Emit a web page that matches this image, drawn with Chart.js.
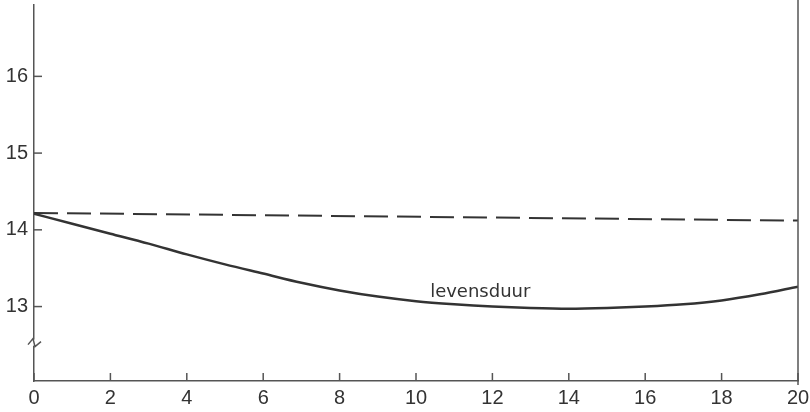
<!DOCTYPE html>
<html lang="nl">
<head>
<meta charset="UTF-8">
<title>levensduur</title>
<script src="https://cdn.jsdelivr.net/npm/chart.js"></script>
<style>
  html, body { margin: 0; padding: 0; background: #fff; }
  #wrap { width: 810px; height: 412px; }
</style>
</head>
<body>
<div id="wrap"><canvas id="chart"></canvas></div>
<script>
// data
const xValues = [0, 1, 2, 3, 4, 5, 6, 7, 8, 9, 10, 11, 12, 13, 14, 15, 16, 17, 18, 19, 20];
const levensduur = [14.21, 14.08, 13.95, 13.82, 13.68, 13.55, 13.43, 13.31, 13.21, 13.13, 13.07,
                    13.03, 13.00, 12.98, 12.97, 12.98, 13.00, 13.03, 13.08, 13.16, 13.26];
const dashX = [0, 20];
const dashY = [14.22, 14.12];
const xTicks = [0, 2, 4, 6, 8, 10, 12, 14, 16, 18, 20];
const yTicks = [13, 14, 15, 16];
const yBreak = 12.53;
const curveLabel = 'levensduur';

const ink = '#333';
const axisInk = '#555';

function seg(ctx, x1, y1, x2, y2) {
    ctx.beginPath();
    ctx.moveTo(x1, y1);
    ctx.lineTo(x2, y2);
    ctx.stroke();
}

const decor = {
    id: 'decor',
    afterDatasetsDraw(chart) {
        const { ctx, chartArea, scales: { x, y } } = chart;
        ctx.save();
        ctx.strokeStyle = axisInk;
        ctx.lineWidth = 1.5;
        // inward tick marks
        xTicks.forEach(v => {
            const px = x.getPixelForValue(v);
            seg(ctx, px, chartArea.bottom, px, chartArea.bottom - 8);
        });
        yTicks.forEach(v => {
            const py = y.getPixelForValue(v);
            seg(ctx, chartArea.left, py, chartArea.left + 8, py);
        });
        // right frame line
        const rx = x.getPixelForValue(20);
        seg(ctx, rx, 0, rx, chartArea.bottom + 4);

        // axis break
        const by = y.getPixelForValue(yBreak);
        const lx = chartArea.left;
        ctx.fillStyle = '#fff';
        ctx.fillRect(lx - 2, by - 3, 4, 6);
        ctx.beginPath();
        ctx.moveTo(lx - 6, by + 2);
        ctx.lineTo(lx - 1, by - 4);
        ctx.lineTo(lx + 1, by + 4);
        ctx.lineTo(lx + 7, by - 1);
        ctx.stroke();

        // curve label
        ctx.fillStyle = ink;
        ctx.font = '18px "DejaVu Sans"';
        ctx.textBaseline = 'alphabetic';
        ctx.fillText(curveLabel, x.getPixelForValue(10.37), y.getPixelForValue(13.12));
        ctx.restore();
    }
};

new Chart(document.getElementById('chart'), {
    type: 'line',
    data: {
        datasets: [{
            data: xValues.map((v, i) => ({ x: v, y: levensduur[i] })),
            borderColor: ink,
            borderWidth: 2.5,
            pointRadius: 0,
            cubicInterpolationMode: 'monotone',
            fill: false
        }, {
            data: dashX.map((v, i) => ({ x: v, y: dashY[i] })),
            borderColor: ink,
            borderWidth: 2,
            borderDash: [24, 9],
            pointRadius: 0,
            fill: false
        }]
    },
    options: {
        responsive: true,
        maintainAspectRatio: false,
        animation: false,
        layout: { padding: { top: 5, right: 12, left: 0, bottom: 0 } },
        plugins: { legend: { display: false }, tooltip: { enabled: false } },
        scales: {
            x: {
                type: 'linear',
                min: 0,
                max: 20,
                afterBuildTicks: s => { s.ticks = xTicks.map(v => ({ value: v })); },
                afterFit: s => { s.height = 31; s.paddingLeft = 0; s.paddingRight = 0; },
                grid: { drawOnChartArea: false, drawTicks: false },
                border: { display: true, color: axisInk, width: 1.5 },
                ticks: {
                    padding: 5,
                    maxRotation: 0,
                    color: ink,
                    font: { family: '"Liberation Sans"', size: 20 }
                }
            },
            y: {
                min: 12.03,
                max: 16.93,
                afterBuildTicks: s => { s.ticks = yTicks.map(v => ({ value: v })); },
                afterFit: s => { s.width = 34; s.paddingTop = 0; s.paddingBottom = 0; },
                grid: { drawOnChartArea: false, drawTicks: false },
                border: { display: true, color: axisInk, width: 1.5 },
                ticks: {
                    padding: 6,
                    color: ink,
                    font: { family: '"Liberation Sans"', size: 20 }
                }
            }
        }
    },
    plugins: [decor]
});
</script>
</body>
</html>
